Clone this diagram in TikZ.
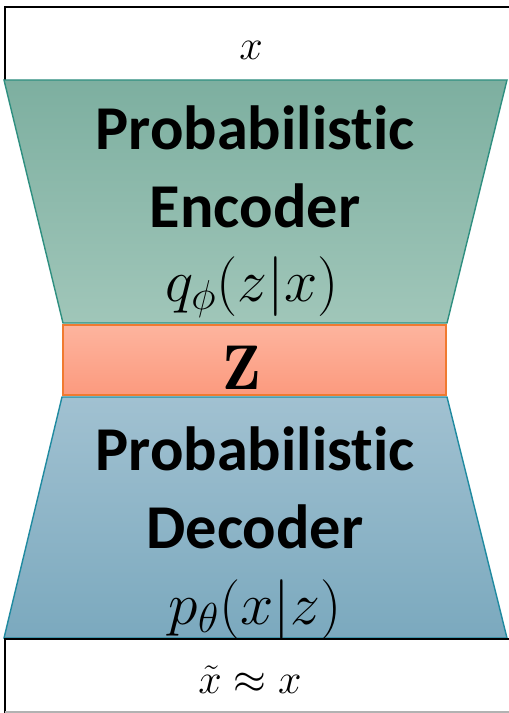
\RequirePackage{fix-cm}
\documentclass[tikz,border=0pt]{standalone}
\usepackage{fontspec}
\usepackage{amsmath}
\newfontfamily\blockfont{Carlito}[Ligatures=NoCommon]
\usetikzlibrary{positioning}

\begin{document}
\begin{tikzpicture}[
    x=0.02cm, y=-0.02cm,
    every node/.style={inner sep=0pt},
    title/.style={font=\blockfont\bfseries\fontsize{35.5}{40}\selectfont, anchor=base},
    formula/.style={font=\fontsize{34}{40}\selectfont, anchor=base},
    ends/.style={font=\fontsize{24}{30}\selectfont, anchor=base},
]

\definecolor{enctop}{HTML}{7DAFA0}   % encoder, upper edge
\definecolor{encbot}{HTML}{A0C6B9}
\definecolor{encline}{HTML}{2E8F80}
\definecolor{ztop}{HTML}{FDB49E}     % latent code
\definecolor{zbot}{HTML}{FC9A7E}
\definecolor{zline}{HTML}{F07A30}
\definecolor{dectop}{HTML}{A1C1D1}   % decoder
\definecolor{decbot}{HTML}{7BA9BE}
\definecolor{decline}{HTML}{1F8AA0}

\useasboundingbox (0,0) rectangle (508,713);
\fill[white] (0,0) rectangle (508,713);

% ---------------------------------------------------------------- input
\draw[black, line width=1.2pt] (5,80) -- (5,7) -- (510,7);
\node[ends] (input) at (251,60) {$x$};

% ---------------------------------------------------------------- encoder
\shade[top color=enctop, bottom color=encbot]
    (4,80) -- (507,80) -- (447,323) -- (63,323) -- cycle;
\draw[encline, line width=0.8pt]
    (4,80) -- (507,80) -- (447,323) -- (63,323) -- cycle;
\node[title] (enc1) at (255,150) {Probabilistic};
\node[title] (enc2) at (255,227) {Encoder};
\node[formula] (encq) at (252,301) {$q_{\phi}(z|x)$};

% ---------------------------------------------------------------- latent
\shade[top color=ztop, bottom color=zbot] (63,325) rectangle (446,395);
\draw[zline, line width=0.8pt] (63,325) rectangle (446,395);
\node[formula, font=\fontsize{36}{40}\selectfont] (code) at (242,389) {$\mathbf{Z}$};

% ---------------------------------------------------------------- decoder
\shade[top color=dectop, bottom color=decbot]
    (62,397) -- (447,397) -- (507,638) -- (4,638) -- cycle;
\draw[decline, line width=0.8pt]
    (62,397) -- (447,397) -- (507,638) -- (4,638) -- cycle;
\node[title] (dec1) at (255,470) {Probabilistic};
\node[title] (dec2) at (255,548) {Decoder};
\node[formula] (decp) at (255,624) {$p_{\theta}(x|z)$};

% ---------------------------------------------------------------- output
\draw[black, line width=1.2pt] (510,639) -- (5,639) -- (5,713);
\draw[black!30, line width=0.8pt] (5,712) -- (510,712);
\node[ends] (output) at (250,693) {$\tilde{x} \approx x$};

\end{tikzpicture}
\end{document}
